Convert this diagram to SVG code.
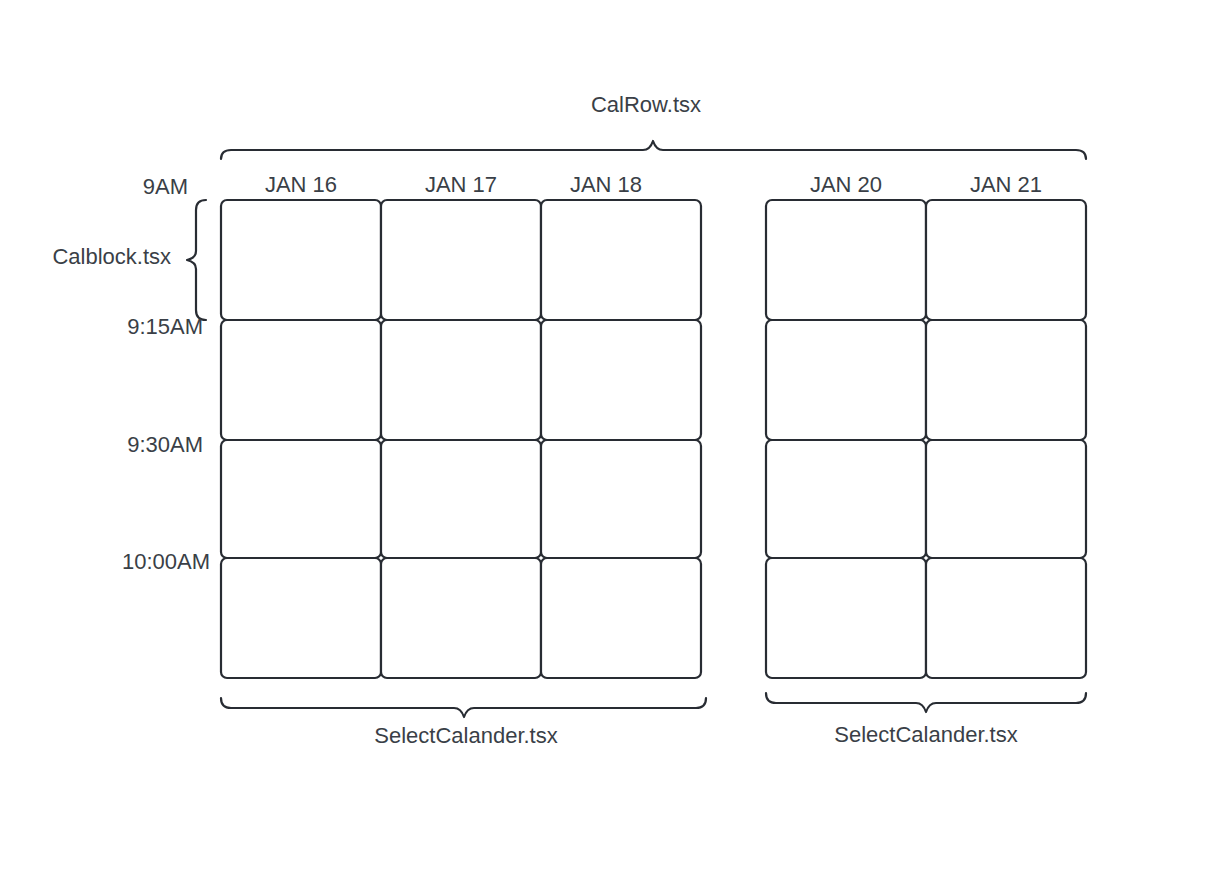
<svg xmlns="http://www.w3.org/2000/svg" width="1206" height="870" viewBox="0 0 1206 870">
<style>
.cell{fill:#ffffff;stroke:#282c33;stroke-width:2.2}
.brace{fill:none;stroke:#282c33;stroke-width:2.2;stroke-linejoin:round;stroke-linecap:round}
text{font-family:"Liberation Sans",Arial,sans-serif;font-size:22px;fill:#3a3f47}
.c{text-anchor:middle}
.r{text-anchor:end}
</style>
<rect width="1206" height="870" fill="#ffffff"/>
<defs>
<rect id="cb" class="cell" width="160" height="120" rx="6" ry="6"/>
<rect id="cb3" class="cell" width="160" height="118" rx="6" ry="6"/>
</defs>
<g id="grid-left">
<use href="#cb" x="221" y="200"/><use href="#cb" x="381" y="200"/><use href="#cb" x="541" y="200"/>
<use href="#cb" x="221" y="320"/><use href="#cb" x="381" y="320"/><use href="#cb" x="541" y="320"/>
<use href="#cb3" x="221" y="440"/><use href="#cb3" x="381" y="440"/><use href="#cb3" x="541" y="440"/>
<use href="#cb" x="221" y="558"/><use href="#cb" x="381" y="558"/><use href="#cb" x="541" y="558"/>
</g>
<g id="grid-right">
<use href="#cb" x="766" y="200"/><use href="#cb" x="926" y="200"/>
<use href="#cb" x="766" y="320"/><use href="#cb" x="926" y="320"/>
<use href="#cb3" x="766" y="440"/><use href="#cb3" x="926" y="440"/>
<use href="#cb" x="766" y="558"/><use href="#cb" x="926" y="558"/>
</g>
<g id="braces">
<path class="brace" d="M221,159 Q221,150 231,150 L643,150 Q650,150 653,141 Q656,150 663,150 L1076,150 Q1086,150 1086,159"/>
<path class="brace" d="M206,200 Q196,200 196,210 L196,251 Q196,258 187,260 Q196,262 196,269 L196,310 Q196,320 206,320"/>
<path class="brace" d="M221,698 Q221,708 231,708 L454,708 Q461,708 464,717 Q467,708 474,708 L696,708 Q706,708 706,698"/>
<path class="brace" d="M766,693 Q766,703 776,703 L916,703 Q923,703 926,712 Q929,703 936,703 L1076,703 Q1086,703 1086,693"/>
</g>
<g id="labels">
<text class="c" x="646" y="112">CalRow.tsx</text>
<text class="c" x="301" y="192">JAN 16</text>
<text class="c" x="461" y="192">JAN 17</text>
<text class="c" x="606" y="192">JAN 18</text>
<text class="c" x="846" y="192">JAN 20</text>
<text class="c" x="1006" y="192">JAN 21</text>
<text class="r" x="188" y="194">9AM</text>
<text class="r" x="171" y="264">Calblock.tsx</text>
<text class="r" x="203" y="334">9:15AM</text>
<text class="r" x="203" y="452">9:30AM</text>
<text class="r" x="210" y="569">10:00AM</text>
<text class="c" x="466" y="743">SelectCalander.tsx</text>
<text class="c" x="926" y="742">SelectCalander.tsx</text>
</g>
</svg>
